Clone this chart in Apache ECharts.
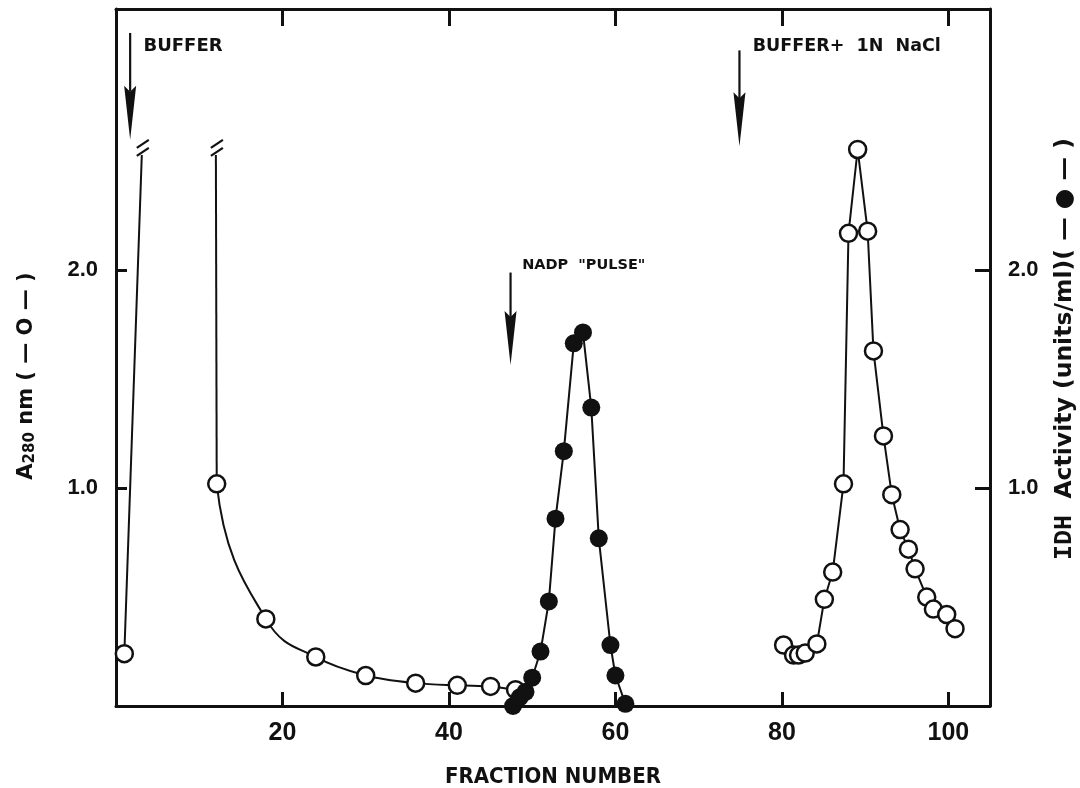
<!DOCTYPE html>
<html>
<head>
<meta charset="utf-8">
<script src="https://cdn.jsdelivr.net/npm/echarts@6.0.0/dist/echarts.min.js"></script>
<style>
  html, body { margin: 0; padding: 0; background: #fff; }
  #main { width: 1080px; height: 788px; }
</style>
</head>
<body>
<div id="main"></div>
<script>
// Fraction-number axis ticks and absorbance / activity ticks
const fractionTicks = [20, 40, 60, 80, 100];
const valueTicks = [1, 2];

// A280 (open circles): void-volume run that leaves the scale
const a280Void = [[1, 0.24], [3.1, 2.53]];
// A280 wash-out tail, coming back down from off-scale
const a280Wash = [[12, 2.53], [12.1, 1.02], [18, 0.40], [24, 0.225], [30, 0.14], [36, 0.105], [41, 0.095], [45, 0.09], [48, 0.075]];
// A280 after the salt step
const a280Salt = [[80.2, 0.28], [81.4, 0.234], [82, 0.234], [82.8, 0.243], [84.2, 0.285], [85.1, 0.49], [86.1, 0.615], [87.4, 1.02], [88, 2.17], [89.1, 2.555], [90.3, 2.18], [91, 1.63], [92.2, 1.24], [93.2, 0.97], [94.2, 0.81], [95.2, 0.72], [96, 0.63], [97.4, 0.50], [98.2, 0.445], [99.8, 0.42], [100.8, 0.355]];
// IDH activity (filled circles), units/ml
const idhActivity = [[47.7, 0], [48.5, 0.04], [49.2, 0.065], [50, 0.13], [51, 0.25], [52, 0.48], [52.8, 0.86], [53.8, 1.17], [55, 1.665], [56.1, 1.715], [57.1, 1.37], [58, 0.77], [59.4, 0.28], [60, 0.14], [61.2, 0.01]];

// Off-scale break marks at the top of the clipped A280 lines
const breakMarks = [[3.1, 2.53], [12, 2.53]];

// Elution events: fraction, arrow top, arrow tip, label fraction, label level
const eventFractions = [1.7, 47.4, 74.9];
const eventArrowTop = [3.09, 1.99, 3.01];
const eventArrowTip = [2.60, 1.566, 2.57];
const eventLabelX = [3.3, 48.8, 76.5];
const eventLabelY = [3.03, 2.025, 3.03];
const eventLabels = ['BUFFER', 'NADP  "PULSE"', 'BUFFER+  1N  NaCl'];
const eventLabelSize = [18, 14.5, 17.5];

const INK = '#111';
const tickFont = 'Liberation Sans, Arial, sans-serif';
const titleFont = 'DejaVu Sans, sans-serif';
const narrowFont = 'DejaVu Sans Condensed, Liberation Sans Narrow, DejaVu Sans, sans-serif';

const events = eventFractions.map((f, i) => [f, eventArrowTop[i], eventArrowTip[i], eventLabelX[i], eventLabelY[i], i]);

const chart = echarts.init(document.getElementById('main'));

function xAxisBase(pos) {
  return {
    type: 'value', min: 0, max: 105, position: pos,
    axisLine: { show: true, onZero: false, lineStyle: { color: INK, width: 3 } },
    axisTick: { show: true, inside: true, length: pos === 'top' ? 17 : 14, customValues: fractionTicks, lineStyle: { color: INK, width: 3 } },
    splitLine: { show: false }
  };
}
function yAxisBase(pos) {
  return {
    type: 'value', min: 0, max: 3.2, position: pos,
    axisLine: { show: true, onZero: false, lineStyle: { color: INK, width: 3 } },
    axisTick: { show: true, inside: true, length: pos === 'left' ? 11 : 15, customValues: valueTicks, lineStyle: { color: INK, width: 3 } },
    axisLabel: {
      show: true, customValues: valueTicks, margin: 18,
      formatter: v => v.toFixed(1),
      color: INK, fontFamily: tickFont, fontWeight: 'bold', fontSize: 22
    },
    splitLine: { show: false }
  };
}

const openCircle = { color: '#fff', borderColor: INK, borderWidth: 2.5 };
const lineStyle = { color: INK, width: 2 };

// Hand-drawn style smooth curve (Catmull-Rom through the points, in pixel space).
// The first segment is kept straight: it is the trace coming back down from off-scale.
function renderWashCurve(params, api) {
  if (params.dataIndex !== 0) return null;
  const pts = a280Wash.map(p => api.coord(p));
  const n = pts.length;
  const children = [];
  children.push({
    type: 'line',
    shape: { x1: pts[0][0], y1: pts[0][1], x2: pts[1][0], y2: pts[1][1] },
    style: { stroke: INK, lineWidth: 2, fill: null }
  });
  const k = 1 / 6;
  for (let i = 1; i < n - 1; i++) {
    const p0 = pts[i - 1], p1 = pts[i], p2 = pts[i + 1], p3 = pts[Math.min(i + 2, n - 1)];
    children.push({
      type: 'bezierCurve',
      shape: {
        x1: p1[0], y1: p1[1], x2: p2[0], y2: p2[1],
        cpx1: p1[0] + (p2[0] - p0[0]) * k, cpy1: p1[1] + (p2[1] - p0[1]) * k,
        cpx2: p2[0] - (p3[0] - p1[0]) * k, cpy2: p2[1] - (p3[1] - p1[1]) * k
      },
      style: { stroke: INK, lineWidth: 2, fill: null }
    });
  }
  return { type: 'group', children: children };
}

function renderBreak(params, api) {
  const p = api.coord([api.value(0), api.value(1)]);
  const cx = p[0] + 1, cy = p[1] - 7;
  const mk = dy => ({
    type: 'line',
    shape: { x1: cx - 6, y1: cy + dy + 4, x2: cx + 6, y2: cy + dy - 4 },
    style: { stroke: INK, lineWidth: 2.2 }
  });
  return { type: 'group', children: [mk(-4), mk(4)] };
}

function renderEvent(params, api) {
  const idx = api.value(5);
  const top = api.coord([api.value(0), api.value(1)]);
  const tip = api.coord([api.value(0), api.value(2)]);
  const lab = api.coord([api.value(3), api.value(4)]);
  const headLen = 54, headW = 12;
  return {
    type: 'group',
    children: [
      { type: 'line', shape: { x1: tip[0], y1: top[1], x2: tip[0], y2: tip[1] - headLen + 6 }, style: { stroke: INK, lineWidth: 2.2 } },
      { type: 'polygon', shape: { points: [[tip[0] - headW / 2, tip[1] - headLen], [tip[0], tip[1] - headLen + 6], [tip[0] + headW / 2, tip[1] - headLen], [tip[0], tip[1]]] }, style: { fill: INK } },
      { type: 'text', x: lab[0], y: lab[1], style: { text: eventLabels[idx], fill: INK, font: 'bold ' + eventLabelSize[idx] + 'px ' + titleFont, align: 'left', verticalAlign: 'middle' } }
    ]
  };
}

const option = {
  backgroundColor: '#fff',
  animation: false,
  grid: { left: 116, right: 90, top: 9, bottom: 82, containLabel: false, outerBoundsMode: 'none' },
  xAxis: [
    Object.assign(xAxisBase('bottom'), {
      name: 'FRACTION NUMBER', nameLocation: 'middle', nameGap: 60,
      nameTextStyle: { color: INK, fontFamily: narrowFont, fontWeight: 'bold', fontSize: 22 },
      axisLabel: { show: true, customValues: fractionTicks, margin: 15, color: INK, fontFamily: tickFont, fontWeight: 'bold', fontSize: 25 }
    }),
    Object.assign(xAxisBase('top'), { axisLabel: { show: false } })
  ],
  yAxis: [yAxisBase('left'), yAxisBase('right')],
  graphic: [
    {
      type: 'text', x: 27, y: 376, rotation: Math.PI / 2,
      style: {
        text: '{a|A}{s|280}{a| nm ( — O — )}',
        align: 'center', verticalAlign: 'middle', fill: INK,
        rich: {
          a: { fontFamily: titleFont, fontWeight: 'bold', fontSize: 21, fill: INK },
          s: { fontFamily: titleFont, fontWeight: 'bold', fontSize: 15, fill: INK, padding: [6, 0, 0, 0] }
        }
      }
    },
    {
      type: 'text', x: 1065, y: 349, rotation: Math.PI / 2,
      style: {
        text: '{m|IDH}{a|  Activity (units/ml)( — ● — )}',
        align: 'center', verticalAlign: 'middle', fill: INK,
        rich: {
          m: { fontFamily: 'Liberation Mono, DejaVu Sans Mono, monospace', fontWeight: 'bold', fontSize: 25, fill: INK },
          a: { fontFamily: titleFont, fontWeight: 'bold', fontSize: 23.5, fill: INK }
        }
      }
    }
  ],
  series: [
    {
      type: 'line', data: a280Void.map((p, i) => i === 0 ? p : { value: p, symbol: 'none' }),
      symbol: 'circle', symbolSize: 17, itemStyle: openCircle, lineStyle: lineStyle, z: 3
    },
    {
      type: 'custom', data: a280Wash, renderItem: renderWashCurve, z: 2, silent: true,
      encode: { x: 0, y: 1 }
    },
    {
      type: 'line', data: a280Wash.map((p, i) => i === 0 ? { value: p, symbol: 'none' } : p),
      symbol: 'circle', symbolSize: 17, itemStyle: openCircle, lineStyle: { width: 0, opacity: 0 }, z: 3
    },
    {
      type: 'line', data: a280Salt,
      symbol: 'circle', symbolSize: 17, itemStyle: openCircle, lineStyle: lineStyle, z: 3
    },
    {
      type: 'line', data: idhActivity, yAxisIndex: 1,
      symbol: 'circle', symbolSize: 18, itemStyle: { color: INK, borderColor: INK, borderWidth: 0 }, lineStyle: lineStyle, z: 4
    },
    {
      type: 'custom', data: breakMarks, renderItem: renderBreak, z: 5, silent: true
    },
    {
      type: 'custom', data: events, renderItem: renderEvent, z: 5, silent: true,
      encode: { x: 0, y: 1 }
    }
  ]
};

chart.setOption(option);
</script>
</body>
</html>
